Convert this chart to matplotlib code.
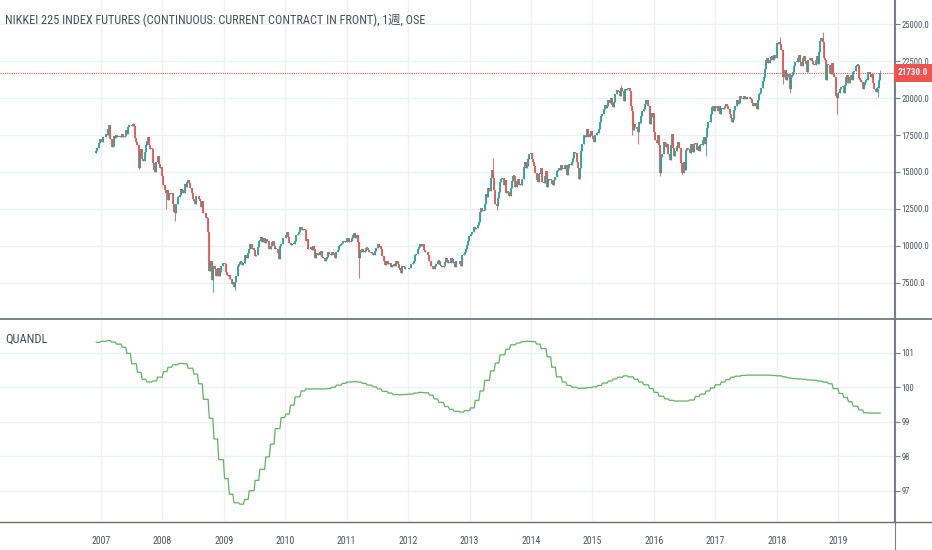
import numpy as np
import pandas as pd
import matplotlib
matplotlib.use("Agg")
import matplotlib.pyplot as plt
import matplotlib.dates as mdates
from matplotlib import font_manager
from matplotlib.lines import Line2D
from matplotlib.patches import Rectangle

# ---------------- data (weekly closes, one list per year, Monday-based weeks) ----------------
week_start = "2006-12-04"
first_open = 16300

c2006 = [16420, 16600, 16950, 17250]
c2007 = [17100, 17050, 17350, 17400, 17550, 17500, 17900, 18150, 17200, 16700, 16750, 17450, 17300,
         17500, 17400, 17400, 17450, 17400, 17550, 17400, 17450, 17850, 17600, 18050, 18150, 18150,
         18100, 18250, 18100, 17300, 17000, 16800, 15300, 16250, 16550, 15900, 15750, 16350, 16800,
         17100, 17350, 16850, 16550, 16550, 15600, 15150, 15000, 15700, 16050, 15550, 15250, 15350, 14700]
c2008 = [14100, 13800, 13600, 13800, 13100, 13600, 13500, 13600, 12800, 12300, 12250, 12800, 13300,
         13300, 13450, 13850, 13750, 13600, 14200, 14000, 14350, 14450, 14250, 13900, 13550, 13200,
         13000, 12800, 13350, 13350, 13150, 13000, 12650, 13050, 12200, 12250, 11900, 11900, 10950,
         8300, 9000, 7700, 8600, 8600, 8400, 7950, 8500, 7950, 8250, 8600, 8650, 8850]
c2009 = [8800, 8250, 8050, 7980, 8050, 7780, 7420, 7550, 7200, 7550, 7950, 8600, 8750,
         8900, 8900, 8700, 8850, 9400, 9250, 9200, 9500, 9750, 10100, 9800, 9850, 9700,
         9300, 9400, 9950, 10350, 10400, 10600, 10250, 10550, 10200, 10450, 10350, 10300, 9750,
         10000, 10250, 10300, 10000, 9800, 9800, 9500, 9100, 10000, 10100, 10150, 10500, 10550]
c2010 = [10700, 10950, 10600, 10200, 10050, 10100, 10150, 10150, 10350, 10750, 10800, 10950, 11300,
         11250, 11100, 11150, 11050, 10350, 10450, 9750, 9750, 9900, 9700, 10000, 9750, 9200,
         9500, 9400, 9400, 9550, 9650, 9250, 9200, 8950, 9100, 9250, 9600, 9450, 9400,
         9600, 9500, 9400, 9200, 9600, 9700, 10000, 10050, 10150, 10200, 10300, 10250, 10250]
c2011 = [10550, 10500, 10250, 10350, 10550, 10700, 10850, 10550, 10700, 10250, 9200, 9550, 9700,
         9750, 9600, 9650, 9850, 9850, 9700, 9600, 9500, 9500, 9400, 9350, 9650, 9850,
         10100, 9950, 10000, 9800, 9300, 8950, 8700, 8800, 8950, 8750, 8850, 8550, 8700,
         8600, 8750, 8650, 8950, 8800, 8500, 8350, 8150, 8650, 8550, 8400, 8400, 8450]
c2012 = [8400, 8500, 8750, 8800, 8850, 8950, 9350, 9450, 9750, 9900, 10100, 10000, 10100,
         9700, 9600, 9550, 9550, 9400, 8950, 8600, 8600, 8450, 8450, 8650, 8800, 9000,
         9000, 8700, 8650, 8550, 8650, 8900, 9150, 9050, 8850, 8850, 9150, 9100, 8850,
         8850, 8550, 9000, 8950, 8950, 8750, 8650, 9350, 9450, 9550, 9750, 10050, 10350, 10650]
c2013 = [10800, 10900, 10950, 11250, 11150, 11200, 11400, 11600, 12300, 12550, 12350, 12400,
         12800, 13500, 13300, 13900, 13700, 14600, 15150, 14600, 13800, 12850, 12700, 13250, 13650,
         14300, 14500, 14600, 14150, 14450, 13600, 13650, 13650, 13400, 13900, 14400, 14750, 14750,
         14000, 14400, 14550, 14100, 14200, 14100, 14550, 15350, 15650, 15300, 15400, 15850, 16200, 16250]
c2014 = [15900, 15700, 15400, 14900, 14450, 14300, 14850, 14850, 15250, 14350, 14250, 14700, 15050,
         14000, 14500, 14450, 14450, 14200, 14100, 14450, 14650, 15050, 15100, 15300, 15100, 15450,
         15200, 15200, 15450, 15500, 14800, 15300, 15550, 15450, 15650, 15950, 16350, 16250, 15700,
         15300, 14550, 15300, 16400, 16900, 17500, 17350, 17450, 17900, 17350, 17600, 17800, 17450]
c2015 = [17200, 17000, 17500, 17650, 17650, 17900, 18350, 18800, 18950, 19250, 19550, 19300, 19450,
         19900, 19650, 20000, 19550, 19400, 19750, 20250, 20550, 20450, 20400, 20150, 20700, 20500,
         19800, 20650, 20550, 20600, 20700, 20500, 19450, 19100, 17850, 18250, 18050, 17900, 17700,
         18400, 18300, 18800, 19100, 19250, 19600, 19900, 19850, 19500, 18250, 19000, 18750, 19000]
c2016 = [17700, 17150, 16950, 17500, 16800, 14950, 16000, 16200, 17000, 16950, 16700, 16900, 16200,
         15800, 16850, 17550, 16650, 16100, 16400, 16750, 17050, 16650, 16600, 15600, 14950, 15650,
         15100, 16500, 16650, 16550, 16250, 16900, 16550, 16350, 16900, 16950, 16500, 16750, 16450,
         16850, 16850, 17150, 17400, 16900, 17350, 17950, 18400, 18400, 18950, 19400, 19450, 19100]
c2017 = [19450, 19300, 19100, 19450, 18900, 19350, 19250, 19300, 19450, 19600, 19500, 19250, 18900,
         18650, 18350, 18600, 19200, 19450, 19850, 19600, 19700, 20150, 20000, 19950, 20150, 20050,
         19950, 20100, 20050, 19950, 19950, 19700, 19450, 19450, 19650, 19250, 19900, 20300, 20350,
         20700, 21150, 21450, 22000, 22550, 22700, 22400, 22550, 22800, 22800, 22550, 22900, 22750]
c2018 = [23700, 23650, 23800, 23650, 23250, 21400, 21700, 21900, 21200, 21450, 21650, 20600, 21400,
         21550, 21800, 22150, 22450, 22450, 22750, 22950, 22450, 22150, 22700, 22850, 22500, 22300,
         21800, 22550, 22700, 22700, 22500, 22300, 22250, 22600, 22850, 22300, 23100, 23850, 24100,
         23800, 22700, 22550, 21200, 22250, 22250, 21700, 21650, 22350, 21700, 21400, 20150, 20000, 20350]
c2019 = [20350, 20650, 20750, 20750, 20350, 20900, 21400, 21600, 21000, 21450, 21600, 21200,
         21800, 21850, 22200, 22250, 22250, 21350, 21250, 21100, 20600, 20900, 21100, 21250, 21250,
         21750, 21650, 21450, 21650, 21050, 20650, 20400, 20700, 20700, 21200, 21730]

closes = (c2006 + c2007 + c2008 + c2009 + c2010 + c2011 + c2012 + c2013 + c2014
          + c2015 + c2016 + c2017 + c2018 + c2019)

# notable wicks
wick_hi_dates = ["2013-05-20", "2018-01-22", "2018-10-01", "2019-09-09", "2007-07-09", "2015-06-22"]
wick_hi_vals = [15950, 24150, 24450, 21900, 18300, 20900]
wick_lo_dates = ["2008-01-21", "2008-03-17", "2008-10-27", "2009-03-09", "2011-03-14", "2013-06-10",
                 "2015-08-24", "2015-09-28", "2016-02-08", "2016-06-20", "2016-11-07", "2018-02-05",
                 "2018-03-19", "2018-12-24", "2019-08-26", "2007-08-13"]
wick_lo_vals = [12500, 11700, 6900, 7000, 7850, 12400,
                17500, 16900, 14750, 14850, 16100, 20950,
                20350, 18900, 20100, 15200]

last_price = 21730.0

# QUANDL indicator, monthly values from Dec 2006
q2006 = [101.30]
q2007 = [101.33, 101.35, 101.31, 101.25, 101.16, 100.98, 100.68, 100.43, 100.23, 100.15, 100.18, 100.29]
q2008 = [100.45, 100.58, 100.65, 100.69, 100.68, 100.55, 100.38, 100.10, 99.65, 99.10, 98.50, 97.90]
q2009 = [97.35, 96.90, 96.65, 96.61, 96.75, 97.00, 97.30, 97.62, 97.98, 98.35, 98.80, 99.12]
q2010 = [99.22, 99.48, 99.72, 99.89, 99.95, 99.95, 99.95, 99.95, 99.96, 100.00, 100.06, 100.11]
q2011 = [100.15, 100.16, 100.15, 100.11, 100.06, 100.01, 99.95, 99.88, 99.83, 99.79, 99.78, 99.79]
q2012 = [99.80, 99.83, 99.85, 99.84, 99.77, 99.66, 99.56, 99.44, 99.36, 99.30, 99.28, 99.32]
q2013 = [99.40, 99.62, 99.89, 100.20, 100.47, 100.70, 100.94, 101.10, 101.23, 101.28, 101.32, 101.33]
q2014 = [101.32, 101.25, 101.12, 100.88, 100.58, 100.30, 100.15, 100.05, 100.00, 99.97, 99.97, 99.99]
q2015 = [100.01, 100.05, 100.12, 100.18, 100.24, 100.29, 100.33, 100.30, 100.23, 100.15, 100.07, 99.96]
q2016 = [99.85, 99.74, 99.66, 99.62, 99.60, 99.60, 99.60, 99.63, 99.73, 99.80, 99.89, 99.98]
q2017 = [100.07, 100.15, 100.22, 100.29, 100.32, 100.34, 100.35, 100.35, 100.35, 100.35, 100.35, 100.34]
q2018 = [100.33, 100.30, 100.27, 100.25, 100.24, 100.23, 100.21, 100.20, 100.18, 100.15, 100.10, 99.96]
q2019 = [99.82, 99.70, 99.58, 99.45, 99.34, 99.26, 99.25, 99.25, 99.25]
quandl = q2006 + q2007 + q2008 + q2009 + q2010 + q2011 + q2012 + q2013 + q2014 + q2015 + q2016 + q2017 + q2018 + q2019

title = "NIKKEI 225 INDEX FUTURES (CONTINUOUS: CURRENT CONTRACT IN FRONT), 1週, OSE"
price_ticks = [7500, 10000, 12500, 15000, 17500, 20000, 22500, 25000]
q_ticks = [97, 98, 99, 100, 101]
years = list(range(2007, 2020))

# ---------------- style ----------------
GREEN = "#26a69a"
RED = "#ef5350"
GRID = "#eef0f4"
AXCOL = "#7b7e87"
TXT = "#50535e"

names = {f.name for f in font_manager.fontManager.ttflist}
base = "DejaVu Sans"
for n in ["Liberation Sans Narrow", "Roboto Condensed", "Open Sans Condensed", "Liberation Sans"]:
    if n in names:
        base = n
        break
plt.rcParams["font.family"] = [base, "Noto Sans CJK JP"]

W, H = 932, 550
fig = plt.figure(figsize=(W / 100, H / 100), dpi=100)
ax = fig.add_axes([0, 1 - 318 / H, 894 / W, 318 / H])
ax2 = fig.add_axes([0, 1 - 521 / H, 894 / W, (521 - 319) / H])

weeks = pd.date_range(week_start, periods=len(closes), freq="7D")
x = mdates.date2num(weeks)
c = np.array(closes, dtype=float)
o = np.r_[first_open, c[:-1]]
hi = np.maximum(o, c)
lo = np.minimum(o, c)
body_lo = lo.copy()
body_hi = np.maximum(hi, lo + 50)
for d, v in zip(wick_hi_dates, wick_hi_vals):
    i = weeks.get_loc(pd.Timestamp(d))
    hi[i] = max(hi[i], v)
for d, v in zip(wick_lo_dates, wick_lo_vals):
    i = weeks.get_loc(pd.Timestamp(d))
    lo[i] = min(lo[i], v)
cols = np.where(c >= o, GREEN, RED)

ax.vlines(x, lo, hi, colors=cols, lw=0.6, zorder=3)
ax.vlines(x, body_lo, body_hi, colors=cols, lw=1.3, zorder=3)

# x range: 2007 at x=101px, 61.42 px per year
d07 = mdates.date2num(pd.Timestamp("2007-01-01"))
ppy = 61.42
xl = (d07 - 101 / ppy * 365.25, d07 + (894 - 101) / ppy * 365.25)
for a in (ax, ax2):
    a.set_xlim(*xl)
    a.set_xticks([mdates.date2num(pd.Timestamp(f"{y}-01-01")) for y in years])
    a.grid(True, color=GRID, lw=1)
    a.set_axisbelow(True)
    for s in ["top", "left", "bottom"]:
        a.spines[s].set_visible(False)
    a.spines["right"].set_color(AXCOL)
    a.yaxis.tick_right()
    a.tick_params(axis="y", direction="out", length=4, width=0.8, color=AXCOL,
                  labelsize=6.2, labelcolor=TXT, pad=1.5)
    a.tick_params(axis="x", length=0)
    a.set_facecolor("white")

ax.set_ylim(5109, 26646)
ax.set_yticks(price_ticks)
ax.set_yticklabels([f"{v:.1f}" for v in price_ticks])
ax.set_xticklabels([])
ax.axhline(last_price, color=RED, lw=0.8, ls=(0, (1, 1)), zorder=2)

# lower pane
per = weeks.to_period("M")
qs = pd.Series(quandl, index=pd.period_range("2006-12", periods=len(quandl), freq="M"))
wq = qs.reindex(per).values
ax2.plot(x, wq, color="#5cb660", lw=0.9)
ax2.set_ylim(96.122, 101.977)
ax2.set_yticks(q_ticks)
ax2.set_yticklabels([str(v) for v in q_ticks])
ax2.set_xticklabels([str(y) for y in years], fontsize=7, color=TXT)
ax2.tick_params(axis="x", pad=11)

# titles
t = fig.text(5 / W, 1 - 20 / H, title, ha="left", va="center", fontsize=11, color="#4a4e59")
fig.text(5 / W, 1 - 339 / H, "QUANDL", ha="left", va="center", fontsize=9, color="#4a4e59")
fig.canvas.draw()
wpx = t.get_window_extent().width
t.set_fontsize(11 * 418 / wpx)

# pane separators and axis line
fig.add_artist(Line2D([0, 1], [1 - 318.5 / H] * 2, transform=fig.transFigure, color="#6a6d78", lw=1.2))
fig.add_artist(Line2D([0, 1], [1 - 521.5 / H] * 2, transform=fig.transFigure, color="#6a6d78", lw=1.0))
fig.add_artist(Line2D([894.5 / W] * 2, [0, 1], transform=fig.transFigure, color=AXCOL, lw=0.8))

# last price label
ypx = ax.transData.transform((0, last_price))[1]
fig.add_artist(Rectangle((894 / W, (ypx - 9) / H), 38 / W, 18 / H, transform=fig.transFigure,
                         facecolor=RED, edgecolor="none", zorder=5))
fig.text(913 / W, ypx / H, f"{last_price:.1f}", ha="center", va="center", color="white",
         fontsize=6.6, fontweight="bold", zorder=6)

fig.savefig("out.png", dpi=100)
